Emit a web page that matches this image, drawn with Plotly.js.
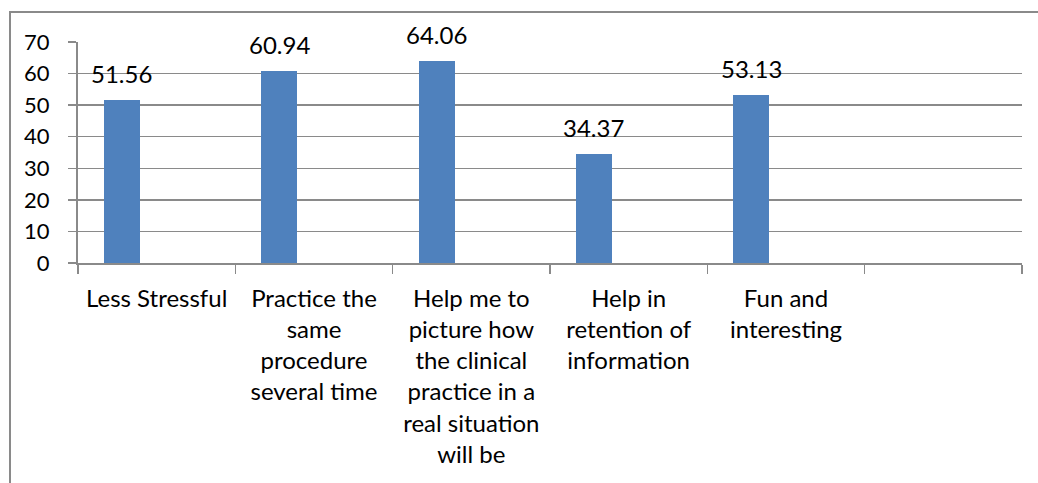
<!DOCTYPE html>
<html>
<head>
<meta charset="utf-8">
<script src="https://cdn.plot.ly/plotly-3.0.1.min.js"></script>
<style>
  html, body { margin: 0; padding: 0; background: #fff; overflow: hidden; }
  #frame { position: absolute; left: 9px; top: 11px; width: 1200px; height: 700px; border: 2px solid #8a8a8a; box-sizing: border-box; }
  #chart { position: absolute; left: 0; top: 0; width: 1038px; height: 483px; }
</style>
</head>
<body>
<div id="frame"></div>
<div id="chart"></div>
<script>
const categories = [
  "Less Stressful",
  "Practice the<br>same<br>procedure<br>several time",
  "Help me to<br>picture how<br>the clinical<br>practice in a<br>real situation<br>will be",
  "Help in<br>retention of<br>information",
  "Fun and<br>interesting",
  " "
];
const values = [51.56, 60.94, 64.06, 34.37, 53.13, null];
const valueLabels = ["51.56", "60.94", "64.06", "34.37", "53.13", ""];
const yTicks = [0, 10, 20, 30, 40, 50, 60, 70];

const barOffset = -0.335;
const barWidth = 0.229;
const FONT = "Lato, 'Open Sans', sans-serif";

const trace = {
  type: "bar",
  x: categories,
  y: values,
  marker: { color: "#4F81BD" },
  width: values.map(() => barWidth),
  offset: values.map(() => barOffset),
  hoverinfo: "none",
  showlegend: false
};

const annotations = values.map((v, i) => v == null ? null : ({
  x: i + barOffset + barWidth / 2,
  y: v,
  xref: "x",
  yref: "y",
  text: valueLabels[i],
  showarrow: false,
  xanchor: "center",
  yanchor: "bottom",
  yshift: 10,
  font: { family: FONT, size: 24, color: "#000" }
})).filter(a => a);

const layout = {
  width: 1038,
  height: 483,
  margin: { l: 78, r: 16, t: 42, b: 220 },
  paper_bgcolor: "rgba(0,0,0,0)",
  plot_bgcolor: "rgba(0,0,0,0)",
  font: { family: FONT, size: 22, color: "#000" },
  bargap: 0,
  xaxis: {
    type: "category",
    categoryorder: "array",
    categoryarray: categories,
    range: [-0.5, categories.length - 0.5],
    tickson: "boundaries",
    ticks: "outside",
    ticklen: 9,
    tickcolor: "#8a8a8a",
    tickwidth: 1.5,
    showline: true,
    linecolor: "#8a8a8a",
    linewidth: 2,
    showgrid: false,
    tickangle: 0,
    ticklabelstandoff: 13,
    tickfont: { family: FONT, size: 24, color: "#000" },
    fixedrange: true
  },
  yaxis: {
    range: [0, 70],
    tickvals: yTicks,
    ticktext: yTicks.map(String),
    ticks: "outside",
    ticklen: 8,
    tickcolor: "#8a8a8a",
    tickwidth: 1.5,
    showline: true,
    linecolor: "#8a8a8a",
    linewidth: 2,
    showgrid: true,
    gridcolor: "#8a8a8a",
    gridwidth: 1.3,
    zeroline: false,
    ticklabelstandoff: 14,
    tickfont: { family: FONT, size: 22, color: "#000" },
    fixedrange: true
  },
  annotations: annotations
};

Plotly.newPlot("chart", [trace], layout, { displayModeBar: false, staticPlot: true });
</script>
</body>
</html>
